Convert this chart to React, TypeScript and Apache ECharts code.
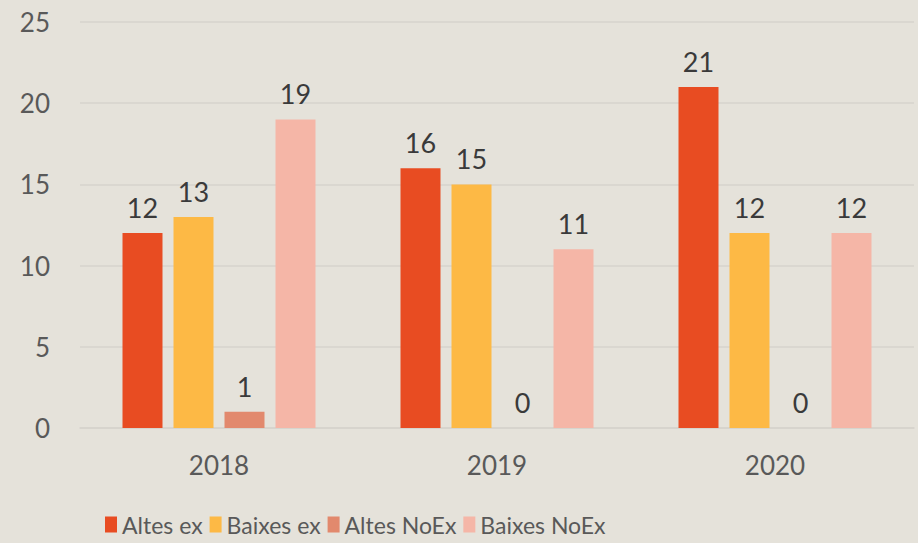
import React, { useEffect, useRef } from "react";
import * as echarts from "echarts";

const categories = ["2018", "2019", "2020"];
const seriesNames = ["Altes ex", "Baixes ex", "Altes NoEx", "Baixes NoEx"];
const altesEx = [12, 16, 21];
const baixesEx = [13, 15, 12];
const altesNoEx = [1, 0, 0];
const baixesNoEx = [19, 11, 12];
const colors = ["#E84C22", "#FDB945", "#E2896D", "#F5B6A7"];

const FONT = "Lato, 'Open Sans', sans-serif";

export default function App() {
  const ref = useRef<HTMLDivElement>(null);
  useEffect(() => {
    if (!ref.current) return;
    const chart = echarts.init(ref.current, undefined, { renderer: "svg" });
    const values = [altesEx, baixesEx, altesNoEx, baixesNoEx];
    chart.setOption({
      animation: false,
      backgroundColor: "#E5E2DA",
      color: colors,
      textStyle: { fontFamily: FONT },
      grid: { left: 80, right: 4, top: 22, bottom: 115 },
      legend: {
        bottom: 2,
        left: 100,
        icon: "rect",
        itemWidth: 12,
        itemHeight: 16,
        itemGap: 7,
        textStyle: { fontSize: 23, color: "#595959", fontFamily: FONT },
        data: seriesNames,
      },
      xAxis: {
        type: "category",
        data: categories,
        axisLine: { lineStyle: { color: "#D6D3CC", width: 1.5 } },
        axisTick: { show: false },
        axisLabel: { fontSize: 26, color: "#595959", margin: 24, fontFamily: FONT },
      },
      yAxis: {
        type: "value",
        min: 0,
        max: 25,
        interval: 5,
        axisLine: { show: false },
        axisTick: { show: false },
        splitLine: { lineStyle: { color: "#D6D3CC", width: 1.5 } },
        axisLabel: { fontSize: 26, color: "#595959", margin: 30, fontFamily: FONT },
      },
      series: seriesNames.map((name, i) => ({
        name,
        type: "bar",
        data: values[i],
        barWidth: 40,
        barGap: "27.5%",
        itemStyle: { color: colors[i] },
        label: {
          show: true,
          position: "top",
          distance: 12,
          fontSize: 27,
          color: "#3A3A3A",
          fontFamily: FONT,
        },
      })),
    });
    return () => chart.dispose();
  }, []);
  return (
    <div
      ref={ref}
      style={{ position: "fixed", left: 0, top: 0, width: 918, height: 543 }}
    />
  );
}
